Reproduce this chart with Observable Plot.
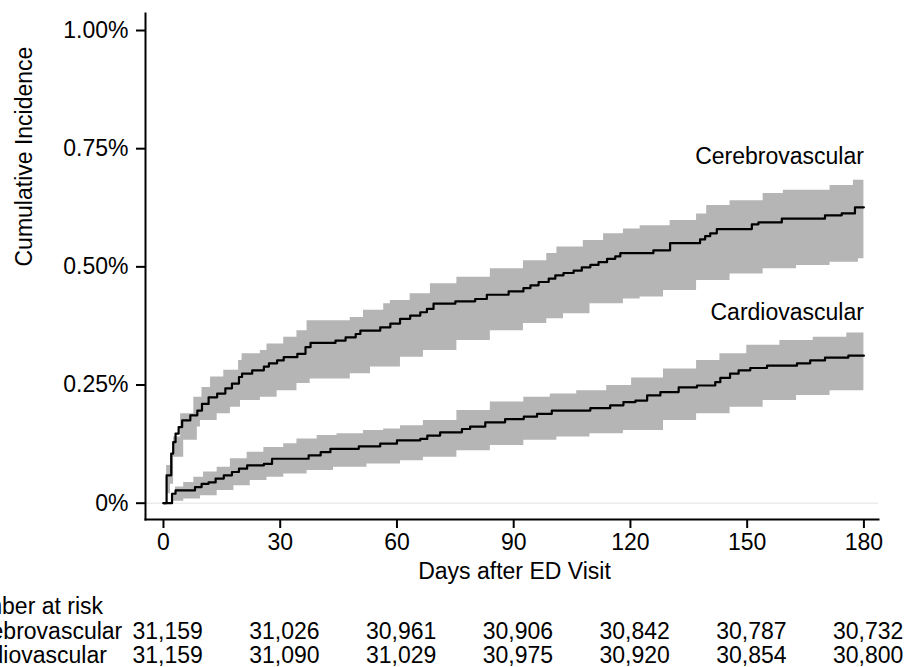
<!DOCTYPE html>
<html><head><meta charset="utf-8">
<script src="https://cdn.jsdelivr.net/npm/d3@7"></script>
<script src="https://cdn.jsdelivr.net/npm/@observablehq/plot@0.6"></script>
<style>body{margin:0;background:#fff} svg{overflow:visible}</style>
</head><body><div id="chart"></div>
<script>
// ---- data ----
const seriesNames = ["Cerebrovascular", "Cardiovascular"];

// step estimates (day, cumulative incidence %)
const cerebroDays = [0,0.8,2.0,2.5,3.1,3.9,4.8,6.9,8.7,9.9,11.6,13.8,15.9,17.6,19.4,20.2,22.8,25.8,27.1,29.2,30.9,34.4,36.5,37.8,44.2,46.8,49.4,50.6,55.7,58.3,60.8,63.4,66,67.7,69.4,75,80.1,83.1,88.7,92.5,94.3,96.4,99,100.7,102.8,105.4,107.5,109.7,111.8,114,116.1,117.4,125.9,130.2,137.9,139.2,140.5,142.2,151.2,152.9,158.9,170,174.3,177.7,180];
const cerebroPct = [0,0.059,0.105,0.129,0.147,0.161,0.175,0.186,0.196,0.21,0.224,0.232,0.243,0.253,0.267,0.274,0.281,0.289,0.296,0.302,0.309,0.316,0.33,0.339,0.344,0.351,0.358,0.365,0.372,0.38,0.39,0.397,0.404,0.411,0.422,0.427,0.432,0.441,0.448,0.455,0.461,0.468,0.475,0.482,0.487,0.492,0.499,0.504,0.51,0.517,0.522,0.529,0.535,0.55,0.558,0.565,0.571,0.58,0.59,0.594,0.602,0.609,0.613,0.626,0.626];

const cerebroHiDays = [0,0.8,1.8,2.6,4.4,7.8,9.9,12.1,15.5,19.3,20.2,24.9,26.6,30.9,34.3,36.9,48,51.4,56.6,58.3,63.4,68.6,75.4,84,92.5,98.5,101.1,107.9,113.1,118.2,122.5,130.2,137,139.6,145.6,154.1,159.3,171.3,177.3,180];
const cerebroHi = [0,0.08,0.105,0.14,0.189,0.224,0.245,0.267,0.281,0.302,0.316,0.323,0.337,0.351,0.365,0.386,0.393,0.408,0.422,0.429,0.443,0.464,0.478,0.496,0.513,0.528,0.542,0.556,0.57,0.58,0.587,0.598,0.612,0.63,0.64,0.655,0.662,0.672,0.683,0.684];
const cerebroLoDays = [0,0.8,1.8,2.6,5.2,8.7,9.5,13.8,17.2,19.8,24.9,29.2,34.3,37.7,48,53.2,60.9,66.8,75.4,84,92.5,98.5,102.8,109.6,118.2,122.5,128.5,137,145.6,154.1,162.7,171.3,178.6,180];
const cerebroLo = [0,0.02,0.04,0.097,0.133,0.161,0.175,0.189,0.203,0.217,0.224,0.238,0.253,0.263,0.274,0.288,0.309,0.323,0.344,0.365,0.38,0.39,0.401,0.422,0.432,0.436,0.45,0.471,0.485,0.496,0.503,0.51,0.517,0.517];

const cardioDays = [0,2.2,3.1,8.1,9.8,11.6,13.4,15.5,17.6,19.4,21.5,25.8,27.9,37.3,40.4,42.9,50.2,55.7,60,66,67.8,71.1,76.7,78.8,82.7,87.8,92.6,96,99.8,109.7,114.8,118.2,121.3,124.3,127.7,132.4,137.1,141.8,143.1,145.6,147.8,150.8,155.1,162.8,166.2,170,176,180];
const cardioPct = [0,0.02,0.027,0.034,0.041,0.044,0.052,0.059,0.066,0.073,0.08,0.083,0.094,0.101,0.108,0.115,0.12,0.126,0.133,0.136,0.143,0.15,0.157,0.162,0.171,0.178,0.183,0.189,0.196,0.201,0.207,0.214,0.217,0.228,0.235,0.245,0.249,0.256,0.265,0.274,0.281,0.286,0.291,0.296,0.302,0.308,0.312,0.312];

const cardioHiDays = [0,2.2,3.1,5.2,7.8,10.3,13.8,17.2,21.5,25.8,30.9,34.3,39.5,44.6,51.4,56.6,60.9,66.8,75.4,84,92.6,99.4,106.2,113.9,120.3,128.5,137,143,149.9,158.4,167,175.6,180];
const cardioHi = [0,0.021,0.034,0.044,0.055,0.066,0.076,0.094,0.108,0.118,0.126,0.136,0.143,0.147,0.154,0.157,0.164,0.175,0.196,0.214,0.224,0.231,0.238,0.249,0.265,0.284,0.302,0.316,0.334,0.344,0.351,0.36,0.362];
const cardioLoDays = [0,2.2,5.2,9.5,13.8,18.1,22.3,26.6,30.9,36.9,43.7,52.3,60.9,66.8,75.4,84,92.6,101.1,109.6,118.2,128.5,137,145.6,154.1,162.7,171.3,180];
const cardioLo = [0,0.004,0.009,0.016,0.027,0.037,0.048,0.055,0.062,0.069,0.076,0.083,0.09,0.097,0.111,0.122,0.133,0.14,0.147,0.154,0.175,0.189,0.203,0.217,0.228,0.238,0.242];

// number at risk table
const riskDays = [0, 30, 60, 90, 120, 150, 180];
const cerebroRisk = [31159, 31026, 30961, 30906, 30842, 30787, 30732];
const cardioRisk = [31159, 31090, 31029, 30975, 30920, 30854, 30800];
const riskTitle = "Number at risk";

const yTicks = [0, 0.25, 0.5, 0.75, 1.0];
const xTicks = [0, 30, 60, 90, 120, 150, 180];
const curveLabelPct = [0.733, 0.403];

// ---- build tables ----
function stepAt(days, vals, d) {
  let v = vals[0];
  for (let i = 0; i < days.length; i++) { if (days[i] <= d) v = vals[i]; else break; }
  return v;
}
function band(name, hiD, hi, loD, lo) {
  const ds = Array.from(new Set([...hiD, ...loD])).sort((a, b) => a - b);
  return ds.map(d => ({series: name, day: d, hi: stepAt(hiD, hi, d), lo: stepAt(loD, lo, d)}));
}
const bandData = [
  ...band(seriesNames[0], cerebroHiDays, cerebroHi, cerebroLoDays, cerebroLo),
  ...band(seriesNames[1], cardioHiDays, cardioHi, cardioLoDays, cardioLo)
];
const lineData = [
  ...cerebroDays.map((d, i) => ({series: seriesNames[0], day: d, pct: cerebroPct[i]})),
  ...cardioDays.map((d, i) => ({series: seriesNames[1], day: d, pct: cardioPct[i]}))
];
const labelData = seriesNames.map((s, i) => ({series: s, day: 180, pct: curveLabelPct[i]}));
const fmt = d3.format(",");
const cerebroRows = riskDays.map((d, i) => ({day: d, text: fmt(cerebroRisk[i])}));
const cardioRows = riskDays.map((d, i) => ({day: d, text: fmt(cardioRisk[i])}));
const rowDy = [87, 112, 136];
const rowLabelDx = -192;
const T = {fill: "black", lineAnchor: "middle"};

const chart = Plot.plot({
  width: 906, height: 667,
  marginLeft: 145, marginRight: 28, marginTop: 13, marginBottom: 148,
  style: {fontFamily: "'Liberation Sans', Arial, sans-serif", fontSize: "23px", color: "black", background: "white"},
  x: {domain: [-4.62, 183.75]},
  y: {domain: [-0.0345, 1.036]},
  marks: [
    Plot.ruleY([0], {stroke: "#ececec", strokeWidth: 1.5}),
    Plot.areaY(bandData, {x: "day", y1: "lo", y2: "hi", z: "series", fill: "#b5b5b5", curve: "step-after"}),
    Plot.line(lineData, {x: "day", y: "pct", z: "series", stroke: "black", strokeWidth: 2.2, curve: "step-after"}),
    Plot.frame({anchor: "left", stroke: "black", strokeWidth: 2}),
    Plot.frame({anchor: "bottom", stroke: "black", strokeWidth: 2}),
    Plot.axisX({ticks: xTicks, tickSize: 9, tickPadding: 5, strokeWidth: 2, label: null, fill: "black"}),
    Plot.axisY({ticks: yTicks, tickSize: 9, tickPadding: 8, strokeWidth: 2, label: null, fill: "black",
      tickFormat: d => d === 0 ? "0%" : d.toFixed(2) + "%"}),
    Plot.text(labelData, {x: "day", y: "pct", text: "series", textAnchor: "end", ...T}),
    Plot.text(["Cumulative Incidence"], {frameAnchor: "left", dx: -121, rotate: -90, ...T}),
    Plot.text(["Days after ED Visit"], {frameAnchor: "bottom", dx: 2.5, dy: 52, ...T}),
    Plot.text([riskTitle], {frameAnchor: "bottom-left", dx: rowLabelDx, dy: rowDy[0], textAnchor: "start", ...T}),
    Plot.text([seriesNames[0]], {frameAnchor: "bottom-left", dx: rowLabelDx, dy: rowDy[1], textAnchor: "start", ...T}),
    Plot.text([seriesNames[1]], {frameAnchor: "bottom-left", dx: rowLabelDx, dy: rowDy[2], textAnchor: "start", ...T}),
    Plot.text(cerebroRows, {x: "day", text: "text", frameAnchor: "bottom", dx: -31, dy: rowDy[1], textAnchor: "start", ...T}),
    Plot.text(cardioRows, {x: "day", text: "text", frameAnchor: "bottom", dx: -31, dy: rowDy[2], textAnchor: "start", ...T})
  ]
});
document.getElementById("chart").append(chart);
</script>
</body></html>
